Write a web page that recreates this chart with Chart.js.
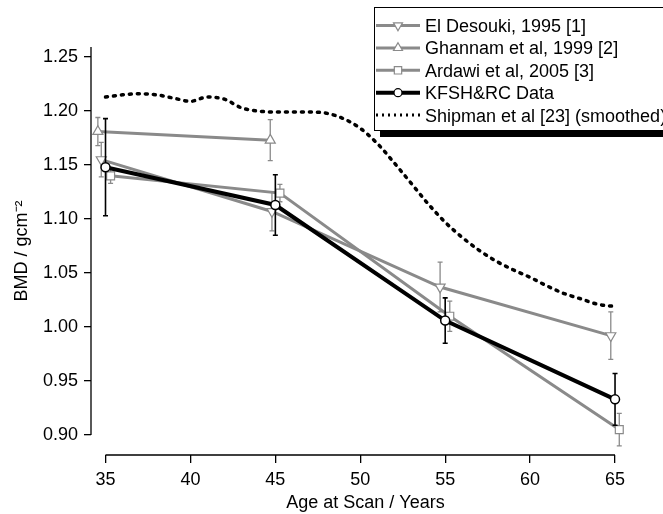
<!DOCTYPE html>
<html><head><meta charset="utf-8">
<script src="https://cdn.jsdelivr.net/npm/chart.js@4.4.0/dist/chart.umd.min.js"></script>
<style>html,body{margin:0;padding:0;background:#fff;}#wrap{width:663px;height:514px;}</style>
</head><body><div id="wrap"><canvas id="c" width="663" height="514"></canvas></div>
<script>
// ---- data ----
const xTicks = [35, 40, 45, 50, 55, 60, 65];
const yTicks = [0.90, 0.95, 1.00, 1.05, 1.10, 1.15, 1.20, 1.25];

const desoukiAge = [34.75, 44.8, 54.7, 64.75];
const desoukiBMD = [1.155, 1.107, 1.037, 0.992];
const desoukiErr = [0.016, 0.018, 0.023, 0.022];

const ghannamAge = [34.55, 44.7];
const ghannamBMD = [1.181, 1.173];
const ghannamErr = [0.013, 0.019];

const ardawiAge = [35.3, 45.27, 55.27, 65.25];
const ardawiBMD = [1.140, 1.124, 1.010, 0.905];
const ardawiErr = [0.007, 0.008, 0.014, 0.015];

const kfshAge = [35, 45, 55, 65];
const kfshBMD = [1.148, 1.113, 1.006, 0.933];
const kfshErr = [0.045, 0.028, 0.021, 0.024];

const shipmanAge = [35, 36, 37, 38, 39, 40, 41, 42, 43, 44, 45, 46, 47, 48, 49, 50,
                    51, 52, 53, 54, 55, 56, 57, 58, 59, 60, 61, 62, 63, 64, 65];
const shipmanBMD = [1.213, 1.215, 1.216, 1.215, 1.212, 1.209, 1.213, 1.211, 1.203, 1.200, 1.199,
                    1.199, 1.199, 1.198, 1.193, 1.184, 1.170, 1.152, 1.133, 1.114, 1.097,
                    1.083, 1.071, 1.061, 1.053, 1.046, 1.038, 1.031, 1.026, 1.021, 1.019];

const legendLabels = ['El Desouki, 1995 [1]', 'Ghannam et al, 1999 [2]', 'Ardawi et al, 2005 [3]',
                      'KFSH&RC Data', 'Shipman et al [23] (smoothed)'];

// ---- styles ----
const FONT = "'Liberation Sans', Arial, Helvetica, sans-serif";
const GRAY = '#8a8a8a';
const pts = (xs, ys) => xs.map((x, i) => ({x: x, y: ys[i]}));

const datasets = [
  {label: legendLabels[3], data: pts(kfshAge, kfshBMD), errors: kfshErr,
   borderColor: '#000', borderWidth: 4, pointStyle: 'circle', pointRadius: 4.5,
   pointBorderWidth: 1.5, pointBorderColor: '#000', pointBackgroundColor: '#fff', errColor: '#000'},
  {label: legendLabels[0], data: pts(desoukiAge, desoukiBMD), errors: desoukiErr,
   borderColor: GRAY, borderWidth: 3, pointStyle: 'triangle', pointRotation: 180, pointRadius: 5.8,
   pointBorderWidth: 1.2, pointBorderColor: GRAY, pointBackgroundColor: '#fff', errColor: GRAY},
  {label: legendLabels[1], data: pts(ghannamAge, ghannamBMD), errors: ghannamErr,
   borderColor: GRAY, borderWidth: 3, pointStyle: 'triangle', pointRadius: 5.8,
   pointBorderWidth: 1.2, pointBorderColor: GRAY, pointBackgroundColor: '#fff', errColor: GRAY},
  {label: legendLabels[2], data: pts(ardawiAge, ardawiBMD), errors: ardawiErr,
   borderColor: GRAY, borderWidth: 3, pointStyle: 'rect', pointRadius: 5.6,
   pointBorderWidth: 1.2, pointBorderColor: GRAY, pointBackgroundColor: '#fff', errColor: GRAY},
  {label: legendLabels[4], data: pts(shipmanAge, shipmanBMD),
   borderColor: '#000', borderWidth: 3.5, borderDash: [2, 6], borderCapStyle: 'round',
   pointRadius: 0, cubicInterpolationMode: 'monotone'}
];

const errorBarPlugin = {
  id: 'errorBars',
  beforeDatasetDraw(chart, args) {
    const ds = chart.data.datasets[args.index];
    if (!ds.errors) return;
    const xs = chart.scales.x, ys = chart.scales.y, ctx = chart.ctx;
    ctx.save();
    ctx.strokeStyle = ds.errColor;
    ctx.lineWidth = ds.errColor === '#000' ? 1.6 : 1.3;
    ds.data.forEach((p, i) => {
      const px = xs.getPixelForValue(p.x);
      const t = ys.getPixelForValue(p.y + ds.errors[i]);
      const b = ys.getPixelForValue(p.y - ds.errors[i]);
      ctx.beginPath();
      ctx.moveTo(px, t); ctx.lineTo(px, b);
      ctx.moveTo(px - 2.5, t); ctx.lineTo(px + 2.5, t);
      ctx.moveTo(px - 2.5, b); ctx.lineTo(px + 2.5, b);
      ctx.stroke();
    });
    ctx.restore();
  }
};

const axisPlugin = {
  id: 'axisLines',
  afterDraw(chart) {
    const {ctx, chartArea, scales} = chart;
    ctx.save();
    ctx.strokeStyle = '#000';
    ctx.lineWidth = 1.3;
    ctx.beginPath();
    const xl = chartArea.left;
    ctx.moveTo(xl, chartArea.top);
    ctx.lineTo(xl, scales.y.getPixelForValue(yTicks[0]));
    const yb = chartArea.bottom;
    ctx.moveTo(scales.x.getPixelForValue(xTicks[0]), yb);
    ctx.lineTo(scales.x.getPixelForValue(xTicks[xTicks.length - 1]), yb);
    ctx.stroke();
    ctx.restore();
  }
};

function marker(ctx, style, x, y, r, color, lw) {
  ctx.save();
  ctx.fillStyle = '#fff';
  ctx.strokeStyle = color;
  ctx.lineWidth = lw;
  ctx.beginPath();
  if (style === 'circle') {
    ctx.arc(x, y, r, 0, Math.PI * 2);
  } else if (style === 'rect') {
    const s = r * Math.SQRT1_2;
    ctx.rect(x - s, y - s, 2 * s, 2 * s);
  } else if (style === 'triangle' || style === 'tridown') {
    const d = style === 'tridown' ? -1 : 1;
    const w = r * Math.sqrt(3) / 2;
    ctx.moveTo(x, y - d * r);
    ctx.lineTo(x + w, y + d * r / 2);
    ctx.lineTo(x - w, y + d * r / 2);
    ctx.closePath();
  }
  ctx.fill();
  ctx.stroke();
  ctx.restore();
}

const legendPlugin = {
  id: 'boxLegend',
  afterDraw(chart) {
    const ctx = chart.ctx;
    const bx = 374, by = 7, bw = 320, bh = 123;
    ctx.save();
    ctx.fillStyle = '#000';
    ctx.fillRect(bx + 6, by + 7, bw, bh);
    ctx.fillStyle = '#fff';
    ctx.fillRect(bx, by, bw, bh);
    ctx.strokeStyle = '#000';
    ctx.lineWidth = 1;
    ctx.strokeRect(bx + 0.5, by + 0.5, bw, bh);
    const rows = [
      {style: 'tridown', color: GRAY, lw: 3, text: legendLabels[0]},
      {style: 'triangle', color: GRAY, lw: 3, text: legendLabels[1]},
      {style: 'rect', color: GRAY, lw: 3, text: legendLabels[2]},
      {style: 'circle', color: '#000', lw: 4, text: legendLabels[3]},
      {style: 'dots', color: '#000', lw: 3, text: legendLabels[4]}
    ];
    ctx.font = '18px ' + FONT;
    ctx.textBaseline = 'alphabetic';
    ctx.textAlign = 'left';
    rows.forEach((r, i) => {
      const cy = 25.5 + i * 22.4;
      ctx.strokeStyle = r.color;
      ctx.lineWidth = r.lw;
      ctx.beginPath();
      if (r.style === 'dots') {
        ctx.setLineDash([2, 4]);
        ctx.lineCap = 'butt';
      }
      ctx.moveTo(376, cy); ctx.lineTo(420, cy);
      ctx.stroke();
      ctx.setLineDash([]);
      if (r.style !== 'dots') {
        marker(ctx, r.style, 398, cy, r.style === 'circle' ? 4 : 5.2, r.color, 1.2);
      }
      ctx.fillStyle = '#000';
      ctx.fillText(r.text, 425, cy + 6.4);
    });
    ctx.restore();
  }
};

const tickFont = {family: FONT, size: 18};

new Chart(document.getElementById('c'), {
  type: 'line',
  data: {datasets: datasets},
  options: {
    responsive: false,
    animation: false,
    devicePixelRatio: 1,
    layout: {padding: {top: 47, right: 23, bottom: 0, left: 0}},
    plugins: {legend: {display: false}, tooltip: {enabled: false}},
    elements: {line: {tension: 0}},
    scales: {
      x: {
        type: 'linear', min: 34.146, max: 66.47,
        afterBuildTicks: s => { s.ticks = xTicks.map(v => ({value: v})); },
        afterFit: s => { s.height = 59; },
        grid: {display: true, drawOnChartArea: false, drawTicks: true, tickLength: 8, color: '#000', lineWidth: 1.3},
        border: {display: false},
        ticks: {font: tickFont, color: '#000', padding: 6, autoSkip: false, maxRotation: 0,
                callback: v => String(v)},
        title: {display: true, text: 'Age at Scan / Years', font: tickFont, color: '#000',
                padding: {top: 0, bottom: 0}}
      },
      y: {
        type: 'linear', min: 0.88148, max: 1.2593,
        afterBuildTicks: s => { s.ticks = yTicks.map(v => ({value: v})); },
        afterFit: s => { s.width = 91; },
        grid: {display: true, drawOnChartArea: false, drawTicks: true, tickLength: 7, color: '#000', lineWidth: 1.3},
        border: {display: false},
        ticks: {font: tickFont, color: '#000', padding: 6, autoSkip: false,
                callback: v => Number(v).toFixed(2)},
        title: {display: true, text: 'BMD / gcm\u207B\u00B2', font: tickFont, color: '#000',
                padding: {top: 11, bottom: 0}}
      }
    }
  },
  plugins: [errorBarPlugin, axisPlugin, legendPlugin]
});
</script>
</body></html>
